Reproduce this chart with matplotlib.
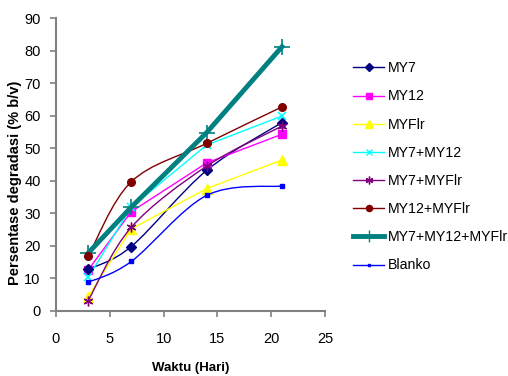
import matplotlib
matplotlib.use("Agg")
import matplotlib.pyplot as plt
from matplotlib.path import Path
from matplotlib.patches import PathPatch
from matplotlib.lines import Line2D
import numpy as np

plt.rcParams['font.family'] = ['Liberation Sans', 'DejaVu Sans']

days = [3, 7, 14, 21]
series_names = ["MY7", "MY12", "MYFlr", "MY7+MY12", "MY7+MYFlr", "MY12+MYFlr", "MY7+MY12+MYFlr", "Blanko"]
my7 = [12.8, 19.8, 43.2, 57.9]
my12 = [12.6, 30.5, 45.5, 54.3]
myflr = [4.4, 25.2, 37.6, 46.4]
my7_my12 = [10.3, 31.9, 51.0, 59.9]
my7_myflr = [3.2, 25.7, 44.5, 56.8]
my12_myflr = [16.8, 39.7, 51.5, 62.7]
my7_my12_myflr = [17.8, 31.9, 54.8, 81.2]
blanko = [8.8, 15.2, 35.5, 38.4]
values = [my7, my12, myflr, my7_my12, my7_myflr, my12_myflr, my7_my12_myflr, blanko]

colors = ["#000080", "#FF00FF", "#FFFF00", "#00FFFF", "#800080", "#800000", "#008080", "#0000FF"]
markers = ["D", "s", "^", "x", (6, 2, 0), "o", "+", "s"]
msizes = [5, 5.5, 6.5, 6, 7, 5.5, 11, 2.5]
lws = [1.0, 1.0, 1.0, 1.0, 1.0, 1.0, 3.5, 1.0]
smooth = [True, False, False, False, True, True, False, True]


def smooth_path(x, y, t=1/6):
    n = len(x)
    verts = [(x[0], y[0])]
    codes = [Path.MOVETO]
    for i in range(n - 1):
        x0, y0 = (x[i - 1], y[i - 1]) if i > 0 else (x[i], y[i])
        x3, y3 = (x[i + 2], y[i + 2]) if i + 2 < n else (x[i + 1], y[i + 1])
        c1 = (x[i] + (x[i + 1] - x0) * t, y[i] + (y[i + 1] - y0) * t)
        c2 = (x[i + 1] - (x3 - x[i]) * t, y[i + 1] - (y3 - y[i]) * t)
        verts += [c1, c2, (x[i + 1], y[i + 1])]
        codes += [Path.CURVE4] * 3
    return Path(verts, codes)


fig = plt.figure(figsize=(5.08, 3.76), dpi=100)
ax = fig.add_axes([0.110, 0.173, 0.530, 0.779])

handles = []
for name, v, c, m, ms, lw, sm in zip(series_names, values, colors, markers, msizes, lws, smooth):
    if sm:
        ax.add_patch(PathPatch(smooth_path(days, v), facecolor='none', edgecolor=c, lw=lw, zorder=2))
        ax.plot(days, v, linestyle='none', marker=m, color=c, markersize=ms, zorder=3,
                markeredgewidth=1.0)
    else:
        ax.plot(days, v, color=c, marker=m, markersize=ms, lw=lw, zorder=2,
                markeredgewidth=1.2 if m in ("x", "+") else 1.0)
    handles.append(Line2D([], [], color=c, marker=m, lw=lw, markersize=ms * 0.8,
                          markeredgewidth=1.0))

ax.set_xlim(0, 25)
ax.set_ylim(0, 90)
ax.set_xticks(range(0, 26, 5))
ax.set_yticks(range(0, 91, 10))
for s in ['top', 'right']:
    ax.spines[s].set_visible(False)
for s in ['left', 'bottom']:
    ax.spines[s].set_color('#808080')
    ax.spines[s].set_linewidth(1.5)
ax.tick_params(direction='out', length=4, width=1.2, color='#808080', labelsize=10.5, pad=7)
ax.tick_params(axis='x', pad=11)

ax.set_xlabel("Waktu (Hari)", fontsize=9.5, fontweight='bold')
ax.xaxis.set_label_coords(0.5, -0.175)
ax.set_ylabel("Persentase degradasi (% b/v)", fontsize=10.5, fontweight='bold')
ax.yaxis.set_label_coords(-0.125, 0.437)

fig.legend(handles, series_names, loc='upper left', bbox_to_anchor=(0.684, 0.852),
           frameon=False, fontsize=10.2, handlelength=2.2, labelspacing=1.0,
           handletextpad=0.25, borderaxespad=0)

fig.savefig("out.png", dpi=100)
